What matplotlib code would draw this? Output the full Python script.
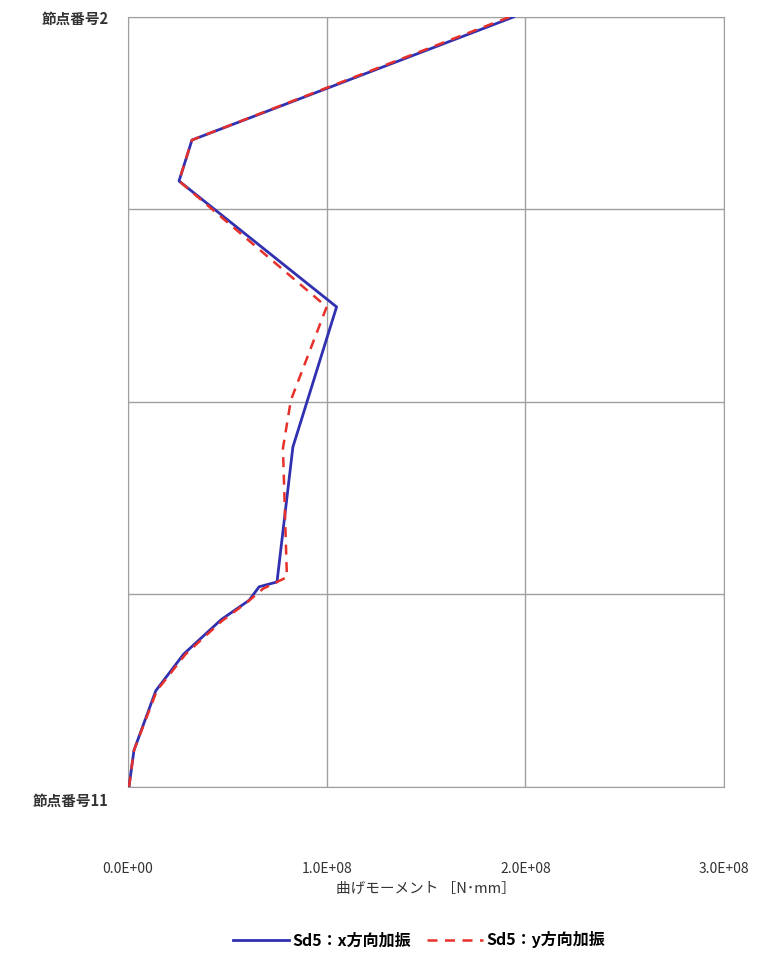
import numpy as np
import matplotlib.pyplot as plt
import matplotlib.transforms as mtransforms

plt.rcParams['font.family'] = ['Noto Sans CJK JP', 'DejaVu Sans']

# Bending moment along the member (x in N*mm, height index from node 11 = 0 to node 2 = 4)
x_dir_moment = [1.94e8, 0.322e8, 0.257e8, 1.05e8, 0.83e8, 0.75e8, 0.66e8, 0.61e8,
                0.47e8, 0.28e8, 0.14e8, 0.03e8, 0.005e8]
x_dir_height = [4.0, 3.361, 3.148, 2.494, 1.766, 1.065, 1.04, 0.97,
                0.87, 0.69, 0.50, 0.19, 0.0]

y_dir_moment = [1.92e8, 0.322e8, 0.257e8, 1.00e8, 0.82e8, 0.78e8, 0.80e8, 0.68e8,
                0.60e8, 0.47e8, 0.29e8, 0.145e8, 0.03e8, 0.005e8]
y_dir_height = [4.0, 3.361, 3.148, 2.494, 2.01, 1.76, 1.09, 1.03,
                0.96, 0.86, 0.69, 0.50, 0.19, 0.0]

x_ticks = [0, 1e8, 2e8, 3e8]
x_labels = ['0.0E+00', '1.0E+08', '2.0E+08', '3.0E+08']
y_ticks = [0, 4]
y_labels = ['節点番号11', '節点番号2']
series_names = ['Sd5：x方向加振', 'Sd5：y方向加振']

fig = plt.figure(figsize=(7.65, 9.61), dpi=100)
ax = fig.add_axes([0.1673, 0.1811, 0.7791, 0.8012])

ax.plot(x_dir_moment, x_dir_height, color='#3030B0', lw=2.0, label=series_names[0], zorder=3)
ax.plot(y_dir_moment, y_dir_height, color='#E8302A', lw=1.8, ls=(0, (4, 3)),
        label=series_names[1], zorder=4)

ax.set_xlim(0, 3e8)
ax.set_ylim(0, 4)
ax.set_xticks(x_ticks)
ax.set_xticklabels(x_labels)
ax.set_yticks(y_ticks)
ax.set_yticklabels(y_labels, fontweight='bold')
ax.set_yticks([1, 2, 3], minor=True)
ax.tick_params(axis='both', which='both', length=0, colors='#333333')
ax.tick_params(axis='x', pad=54, labelsize=10)
ax.tick_params(axis='y', pad=14, labelsize=10.5)
ax.grid(True, which='both', color='#A0A0A0', lw=1.0)
for s in ax.spines.values():
    s.set_color('#A0A0A0')

# bottom node label sits a little below the axis line
lbl = ax.get_yticklabels()[0]
lbl.set_transform(lbl.get_transform() + mtransforms.ScaledTranslation(0, -12 / 100, fig.dpi_scale_trans))

ax.set_xlabel('曲げモーメント ［N･mm］', fontsize=10.5, color='#333333', labelpad=4)

fig.legend(loc='center', bbox_to_anchor=(0.548, 0.022), ncol=2, frameon=False,
           prop={'size': 11.5, 'weight': 'bold'}, handlelength=3.5,
           columnspacing=1.0, handletextpad=0.2)

fig.savefig('out.png', dpi=100)
